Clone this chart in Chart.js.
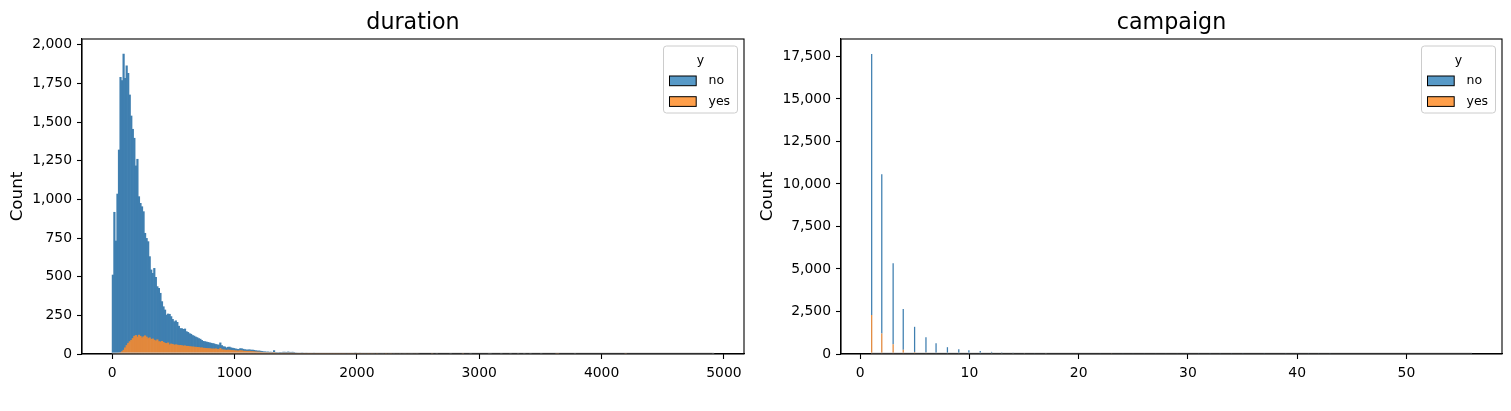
<!DOCTYPE html>
<html><head><meta charset="utf-8">
<script src="https://cdn.jsdelivr.net/npm/chart.js@4.4.1/dist/chart.umd.min.js"></script>
<style>
html,body{margin:0;padding:0;background:#fff;}
#wrap{position:relative;width:1511px;height:411px;overflow:hidden;background:#fff;}
canvas{position:absolute;top:0;}
</style></head><body>
<div id="wrap">
<canvas id="c1" width="750" height="411" style="left:0px;width:750px;height:411px"></canvas>
<canvas id="c2" width="761" height="411" style="left:750px;width:761px;height:411px"></canvas>
</div>
<script>
// ---------------- DATA ----------------
const hueLabels = ['no', 'yes'];
const legendTitle = 'y';
const yAxisLabel = 'Count';

// duration: 392 equal-width bins between min and max
const durationTitle = 'duration';
const durationMin = 0;
const durationMax = 4918;
const durationBinCount = 392;
const durationNo = [
  511, 917, 731, 1033, 1315, 1782, 1754, 1916, 1744, 1809,
  1748, 1596, 1452, 1354, 1281, 1097, 1150, 896, 860, 848,
  809, 663, 638, 627, 525, 449, 424, 464, 411, 344,
  345, 315, 257, 231, 215, 184, 187, 197, 177, 162,
  151, 155, 147, 125, 109, 110, 108, 109, 95, 90,
  84, 81, 74, 71, 66, 63, 58, 56, 48, 44,
  43, 42, 40, 38, 37, 35, 34, 28, 29, 28,
  36, 27, 21, 20, 16, 18, 20, 16, 15, 14,
  12, 11, 10, 13, 13, 12, 10, 9, 9, 10,
  9, 10, 9, 8, 7, 7, 7, 7, 6, 6,
  5, 6, 5, 5, 5, 12, 4, 3, 4, 5,
  4, 6, 6, 6, 7, 6, 6, 6, 5, 3,
  2, 3, 2, 3, 2, 2, 2, 2, 1, 2,
  1, 2, 1, 1, 1, 2, 1, 1, 1, 1,
  2, 1, 1, 1, 1, 1, 1, 1, 1, 0,
  1, 1, 1, 1, 0, 1, 1, 2, 3, 1,
  1, 3, 2, 1, 1, 1, 1, 0, 1, 1,
  1, 0, 0, 1, 0, 1, 1, 0, 0, 0,
  1, 0, 0, 1, 0, 0, 0, 1, 0, 0,
  1, 0, 0, 0, 1, 2, 0, 0, 1, 0
];
const durationYes = [
  0, 0, 0, 2, 5, 8, 15, 25, 40, 55,
  68, 80, 88, 100, 115, 120, 110, 122, 115, 105,
  112, 118, 110, 100, 105, 95, 98, 90, 85, 92,
  80, 78, 82, 75, 70, 68, 72, 60, 65, 62,
  58, 60, 58, 55, 56, 54, 52, 53, 50, 50,
  48, 47, 46, 45, 44, 43, 42, 40, 40, 38,
  37, 36, 35, 35, 33, 33, 32, 34, 31, 30,
  36, 28, 27, 26, 24, 26, 25, 24, 23, 22,
  21, 20, 20, 22, 21, 19, 18, 18, 17, 18,
  16, 16, 15, 14, 13, 13, 12, 10, 9, 8,
  8, 7, 7, 7, 6, 10, 5, 5, 4, 5,
  5, 6, 6, 5, 6, 6, 5, 6, 5, 3,
  3, 2, 2, 3, 3, 2, 3, 2, 2, 2,
  2, 3, 2, 1, 2, 2, 2, 1, 2, 1,
  2, 1, 2, 1, 1, 2, 1, 2, 1, 1,
  1, 1, 0, 1, 1, 1, 1, 2, 3, 2,
  1, 2, 1, 0, 1, 0, 1, 1, 0, 1,
  0, 0, 1, 0, 0, 0, 0, 0, 1, 0,
  0, 1, 0, 0, 0, 0, 0, 0, 0, 0,
  0, 0, 0, 0, 0, 0, 0, 0, 0, 0
];
// isolated long calls (single observations) beyond the dense part
const durationRareNo = [2653, 2769, 2926, 3076, 3094, 3183, 3253, 3322, 3366, 3422, 3509, 3785, 4918];
const durationRareYes = [2621, 2870, 3631, 3643, 4199];
const durationXTicks = [0, 1000, 2000, 3000, 4000, 5000];
const durationYTicks = [0, 250, 500, 750, 1000, 1250, 1500, 1750, 2000];

// campaign: 476 equal-width bins between min and max
const campaignTitle = 'campaign';
const campaignMin = 1;
const campaignMax = 56;
const campaignBinCount = 476;
const campaignValues = [1,2,3,4,5,6,7,8,9,10,11,12,13,14,15,16,17,18,19,20,21,22,23,24,25,26,27,28,29,30,31,32,33,34,35,37,39,40,41,42,43,56];
const campaignNo = [15342,9359,4767,2402,1479,904,591,383,266,213,165,122,88,68,49,51,54,33,26,30,24,17,15,15,8,8,11,8,10,7,7,4,4,3,5,1,1,2,1,2,2,1];
const campaignYes = [2300,1211,574,249,120,75,38,17,17,12,12,3,4,1,2,0,4,0,0,0,0,0,1,0,0,0,0,0,0,0,0,0,0,0,0,0,0,0,0,0,0,0];
const campaignXTicks = [0, 10, 20, 30, 40, 50];
const campaignYTicks = [0, 2500, 5000, 7500, 10000, 12500, 15000, 17500];

// ---------------- STYLE ----------------
const FONT = "'DejaVu Sans'";
const barColors = { no: 'rgb(63,127,176)', yes: 'rgb(226,136,60)' };
const patchColors = { no: 'rgb(87,153,199)', yes: 'rgb(255,159,74)' };

Chart.defaults.font.family = FONT;
Chart.defaults.color = '#000';

function binWidth(lo, hi, n) { return (hi - lo) / n; }
function binIndex(v, lo, hi, n) { return Math.min(n - 1, Math.floor((v - lo) / binWidth(lo, hi, n))); }
function binCenter(i, lo, hi, n) { return lo + (i + 0.5) * binWidth(lo, hi, n); }

// duration bins
const durBins = new Map();
durationNo.forEach((c, i) => durBins.set(i, { no: c, yes: durationYes[i] }));
function addRare(v, key) {
  const i = binIndex(v, durationMin, durationMax, durationBinCount);
  const b = durBins.get(i) || { no: 0, yes: 0 };
  b[key] += 1; durBins.set(i, b);
}
durationRareNo.forEach(v => addRare(v, 'no'));
durationRareYes.forEach(v => addRare(v, 'yes'));
const durKeys = [...durBins.keys()].sort((a, b) => a - b);
const durNoPts = durKeys.map(i => ({ x: binCenter(i, durationMin, durationMax, durationBinCount), y: durBins.get(i).no }));
const durYesPts = durKeys.map(i => ({ x: binCenter(i, durationMin, durationMax, durationBinCount), y: durBins.get(i).yes }));

// campaign bins
const campCenters = campaignValues.map(v => binCenter(binIndex(v, campaignMin, campaignMax, campaignBinCount), campaignMin, campaignMax, campaignBinCount));
const campNoPts = campCenters.map((x, k) => ({ x, y: campaignNo[k] }));
const campYesPts = campCenters.map((x, k) => ({ x, y: campaignYes[k] }));
let campMinGap = Infinity;
for (let k = 1; k < campCenters.length; k++) campMinGap = Math.min(campMinGap, campCenters[k] - campCenters[k - 1]);
const campBarPct = binWidth(campaignMin, campaignMax, campaignBinCount) / campMinGap;

const decoPlugin = {
  id: 'deco',
  afterDatasetsDraw(chart, args, o) {
    const { ctx, scales: { x, y } } = chart;
    ctx.save();
    ctx.strokeStyle = '#cfcfcf'; ctx.lineWidth = 1.2;
    const y0 = y.getPixelForValue(0) - 1;
    ctx.beginPath();
    ctx.moveTo(x.getPixelForValue(o.rangeMin), y0);
    ctx.lineTo(x.getPixelForValue(o.rangeMax), y0);
    ctx.stroke();
    ctx.restore();
  },
  afterDraw(chart, args, o) {
    const { ctx, chartArea: a } = chart;
    ctx.save();
    ctx.strokeStyle = '#000'; ctx.lineWidth = 1.1;
    ctx.strokeRect(a.left, a.top, a.right - a.left, a.bottom - a.top);
    ctx.fillStyle = '#000';
    ctx.font = '22.2px ' + FONT; ctx.textAlign = 'center'; ctx.textBaseline = 'alphabetic';
    ctx.fillText(o.title, (a.left + a.right) / 2, 29);
    // legend
    const w = 74, h = 67, bx = a.right - 6.5 - w, by = a.top + 7;
    const r = 3;
    ctx.beginPath();
    ctx.moveTo(bx + r, by); ctx.lineTo(bx + w - r, by); ctx.quadraticCurveTo(bx + w, by, bx + w, by + r);
    ctx.lineTo(bx + w, by + h - r); ctx.quadraticCurveTo(bx + w, by + h, bx + w - r, by + h);
    ctx.lineTo(bx + r, by + h); ctx.quadraticCurveTo(bx, by + h, bx, by + h - r);
    ctx.lineTo(bx, by + r); ctx.quadraticCurveTo(bx, by, bx + r, by);
    ctx.closePath();
    ctx.fillStyle = 'rgba(255,255,255,0.8)'; ctx.fill();
    ctx.strokeStyle = '#cccccc'; ctx.lineWidth = 1; ctx.stroke();
    ctx.font = '12.5px ' + FONT; ctx.fillStyle = '#000';
    ctx.textAlign = 'center'; ctx.textBaseline = 'middle';
    ctx.fillText(o.legendTitle, bx + w / 2, by + 14.7);
    o.items.forEach((it, k) => {
      const py = by + 30 + k * 20.7;
      ctx.fillStyle = it.color; ctx.fillRect(bx + 6, py, 26.7, 9.7);
      ctx.strokeStyle = '#000'; ctx.lineWidth = 1; ctx.strokeRect(bx + 6, py, 26.7, 9.7);
      ctx.fillStyle = '#000'; ctx.textAlign = 'left';
      ctx.fillText(it.label, bx + 45, py + 5);
    });
    ctx.restore();
  }
};

function makeChart(el, cfg) {
  const yMax = cfg.maxTotal * 1.05;
  const span = cfg.rangeMax - cfg.rangeMin;
  return new Chart(document.getElementById(el), {
    type: 'bar',
    data: {
      datasets: [
        { label: hueLabels[1], data: cfg.yesPts, backgroundColor: barColors.yes, borderWidth: 0, barPercentage: cfg.barPct, categoryPercentage: 1 },
        { label: hueLabels[0], data: cfg.noPts, backgroundColor: barColors.no, borderWidth: 0, barPercentage: cfg.barPct, categoryPercentage: 1 }
      ]
    },
    options: {
      responsive: false, animation: false, devicePixelRatio: 1,
      layout: { padding: { top: 39, left: 0, right: cfg.padRight, bottom: 0 } },
      plugins: {
        legend: { display: false }, tooltip: { enabled: false }, title: { display: false },
        deco: {
          title: cfg.title, rangeMin: cfg.rangeMin, rangeMax: cfg.rangeMax, legendTitle: legendTitle,
          items: [{ label: hueLabels[0], color: patchColors.no }, { label: hueLabels[1], color: patchColors.yes }]
        }
      },
      scales: {
        x: {
          type: 'linear', stacked: true, offset: false,
          min: cfg.rangeMin - 0.05 * span, max: cfg.rangeMax + 0.05 * span,
          afterBuildTicks: s => { s.ticks = cfg.xTicks.map(v => ({ value: v })); },
          afterFit: s => { s.height = 57; },
          ticks: { autoSkip: false, maxRotation: 0, font: { size: 13.9 }, color: '#000', padding: 6, callback: v => String(v) },
          grid: { offset: false, drawOnChartArea: false, drawTicks: true, tickLength: 5, tickColor: '#000', tickWidth: 1.1 },
          border: { display: true, color: '#000', width: 1.1 }
        },
        y: {
          type: 'linear', stacked: true, min: 0, max: yMax,
          afterBuildTicks: s => { s.ticks = cfg.yTicks.map(v => ({ value: v })); },
          afterFit: s => { s.width = cfg.yWidth; },
          ticks: { autoSkip: false, font: { size: 13.9 }, color: '#000', padding: 5, callback: v => Number(v).toLocaleString('en-US') },
          grid: { drawOnChartArea: false, drawTicks: true, tickLength: 5, tickColor: '#000', tickWidth: 1.1 },
          border: { display: true, color: '#000', width: 1.1 },
          title: { display: true, text: yAxisLabel, font: { size: 16.7 }, color: '#000', padding: { top: 8, bottom: 0 } }
        }
      }
    },
    plugins: [decoPlugin]
  });
}

const durMaxTotal = Math.max(...durKeys.map(i => durBins.get(i).no + durBins.get(i).yes));
const campMaxTotal = Math.max(...campaignNo.map((c, k) => c + campaignYes[k]));

makeChart('c1', {
  title: durationTitle, noPts: durNoPts, yesPts: durYesPts, barPct: 1,
  rangeMin: durationMin, rangeMax: durationMax, maxTotal: durMaxTotal,
  xTicks: durationXTicks, yTicks: durationYTicks, yWidth: 82, padRight: 6
});
makeChart('c2', {
  title: campaignTitle, noPts: campNoPts, yesPts: campYesPts, barPct: campBarPct,
  rangeMin: campaignMin, rangeMax: campaignMax, maxTotal: campMaxTotal,
  xTicks: campaignXTicks, yTicks: campaignYTicks, yWidth: 91, padRight: 9
});
</script>
</body></html>
